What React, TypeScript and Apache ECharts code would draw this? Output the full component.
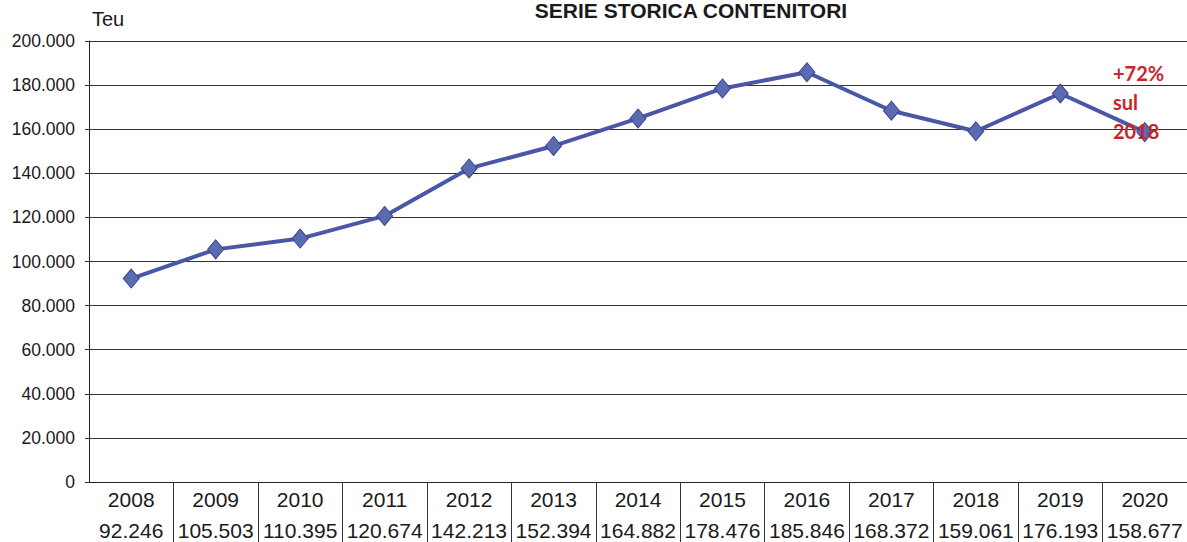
import React, { useEffect, useRef } from "react";
import * as echarts from "echarts";

const years = ["2008", "2009", "2010", "2011", "2012", "2013", "2014", "2015", "2016", "2017", "2018", "2019", "2020"];
const teu = [92246, 105503, 110395, 120674, 142213, 152394, 164882, 178476, 185846, 168372, 159061, 176193, 158677];
const titleText = "SERIE STORICA CONTENITORI";
const unitText = "Teu";
const noteLines = ["+72%", "sul", "2018"];

const fmt = (n: number) => String(Math.round(n)).replace(/\B(?=(\d{3})+(?!\d))/g, ".");

export default function App() {
  const ref = useRef<HTMLDivElement>(null);
  useEffect(() => {
    if (!ref.current) return;
    const chart = echarts.init(ref.current, null, { renderer: "svg" });
    const font = "'Liberation Sans', Arial, sans-serif";
    chart.setOption({
      animation: false,
      backgroundColor: "#ffffff",
      textStyle: { fontFamily: font },
      grid: { left: 89, right: -1, top: 41, bottom: 60, containLabel: false },
      title: {
        text: titleText,
        left: 691,
        textAlign: "center",
        top: -1,
        padding: 0,
        textStyle: { fontFamily: font, fontWeight: "bold", fontSize: 21, lineHeight: 22, color: "#1a1a1a" },
      },
      graphic: [
        {
          type: "text",
          left: 92,
          top: 9,
          style: { text: unitText, font: `20px ${font}`, fill: "#1a1a1a" },
        },
        ...noteLines.map((t, i) => ({
          type: "text",
          left: 1113,
          top: 63 + i * 29,
          z: 100,
          style: { text: t, font: `bold 20px Lato, 'Open Sans', sans-serif`, fill: "#c8262c" },
        })),
      ],
      xAxis: {
        type: "category",
        data: years,
        boundaryGap: true,
        axisLine: { show: true, lineStyle: { color: "#222", width: 1 } },
        axisTick: {
          show: true,
          length: 62,
          lineStyle: { color: "#333", width: 1 },
          interval: (i: number) => i !== 0,
        },
        axisLabel: {
          interval: 0,
          margin: 2,
          formatter: (value: string, index: number) => `{y|${value}}\n{v|${fmt(teu[index])}}`,
          rich: {
            y: { fontFamily: font, fontSize: 21, lineHeight: 31, color: "#1a1a1a" },
            v: { fontFamily: font, fontSize: 21, lineHeight: 31, color: "#1a1a1a" },
          },
        },
        splitLine: { show: false },
      },
      yAxis: {
        type: "value",
        min: 0,
        max: 200000,
        interval: 20000,
        axisLine: { show: true, lineStyle: { color: "#222", width: 1 } },
        axisTick: { show: true, length: 4, lineStyle: { color: "#333" } },
        axisLabel: {
          margin: 14,
          fontFamily: font,
          fontSize: 17.5,
          color: "#1a1a1a",
          formatter: (v: number) => fmt(v),
        },
        splitLine: { show: true, lineStyle: { color: "#333", width: 1 } },
      },
      series: [
        {
          type: "line",
          data: teu,
          symbol: "diamond",
          symbolSize: [16, 19],
          lineStyle: { color: "#4a57a6", width: 4 },
          itemStyle: { color: "#5a6bb2", borderColor: "#3a4690", borderWidth: 1 },
          z: 5,
        },
      ],
    });
    return () => chart.dispose();
  }, []);
  return <div ref={ref} style={{ position: "fixed", left: 0, top: 0, width: 1187, height: 542 }} />;
}
